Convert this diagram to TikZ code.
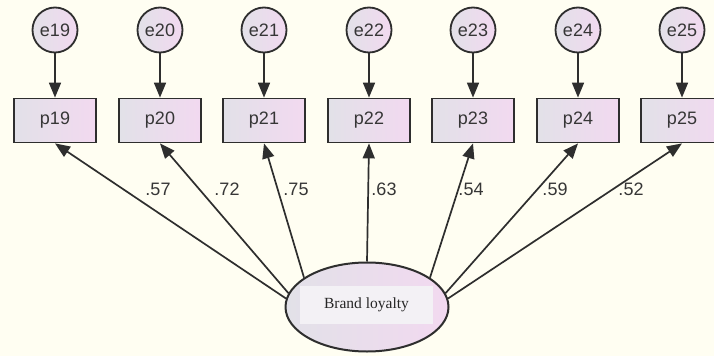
\documentclass[tikz,border=0pt]{standalone}
\usepackage{fontspec}
\setmainfont{Liberation Sans}
\newfontfamily\serifont{Liberation Serif}
\usetikzlibrary{arrows.meta,shapes.geometric}
\definecolor{bg}{HTML}{FFFEF2}
\definecolor{ln}{HTML}{2E2E2E}
\definecolor{txt}{HTML}{363636}
\definecolor{shl}{HTML}{E2E1E8}
\definecolor{shr}{HTML}{F2D9F0}
\definecolor{inner}{HTML}{F3F1F5}
\begin{document}
\begin{tikzpicture}[x=1pt,y=-1pt,
  err/.style={circle, draw=ln, line width=1.8pt, minimum size=45pt, inner sep=0pt,
    left color=shl, right color=shr, text=txt, font=\fontsize{18}{20}\selectfont},
  obs/.style={rectangle, draw=ln, line width=1.8pt, minimum width=82pt, minimum height=44pt,
    inner sep=0pt, left color=shl, right color=shr, text=txt, font=\fontsize{18}{20}\selectfont},
  lat/.style={ellipse, draw=ln, line width=2pt, minimum width=163pt, minimum height=89pt,
    inner sep=0pt, left color=shl, right color=shr},
  lattxt/.style={rectangle, fill=inner, minimum width=133pt, minimum height=38pt, inner sep=0pt,
    text=black!85, font=\serifont\fontsize{15.5}{18}\selectfont},
  arr/.style={draw=ln, line width=1.7pt, -{Triangle[length=15pt,width=12pt]}},
  lbl/.style={text=txt, font=\fontsize{18}{20}\selectfont, inner sep=0pt}]
\fill[bg] (0,0) rectangle (714,356);
\useasboundingbox (0,0) rectangle (714,356);
% error circles
\node[err] (e19) at (55,30) {e19};
\node[err] (e20) at (160,30) {e20};
\node[err] (e21) at (264,30) {e21};
\node[err] (e22) at (369,30) {e22};
\node[err] (e23) at (473,30) {e23};
\node[err] (e24) at (578,30) {e24};
\node[err] (e25) at (682,30) {e25};
% observed boxes
\node[obs] (p19) at (55,120.5) {p19};
\node[obs] (p20) at (160,120.5) {p20};
\node[obs] (p21) at (264,120.5) {p21};
\node[obs] (p22) at (369,120.5) {p22};
\node[obs] (p23) at (473,120.5) {p23};
\node[obs] (p24) at (578,120.5) {p24};
\node[obs] (p25) at (682,120.5) {p25};
% latent
\node[lat] (L) at (367,307) {};
\node[lattxt] (Lt) at (366.5,305) {Brand loyalty};
% error arrows
\foreach \i in {19,...,25}{\draw[arr] (e\i) -- (p\i);}
% loadings
\draw[arr] (L.174) -- (p19.south);
\draw[arr] (L.170) -- (p20.south);
\draw[arr] (L.155) -- (p21.south);
\draw[arr] (L.90) -- (p22.south);
\draw[arr] (L.25) -- (p23.south);
\draw[arr] (L.10) -- (p24.south);
\draw[arr] (L.6) -- (p25.south);
% labels
\node[lbl] (l19) at (158,189) {.57};
\node[lbl] (l20) at (227,189) {.72};
\node[lbl] (l21) at (296,189) {.75};
\node[lbl] (l22) at (384,189) {.63};
\node[lbl] (l23) at (471,189) {.54};
\node[lbl] (l24) at (555,189) {.59};
\node[lbl] (l25) at (631,189) {.52};
\end{tikzpicture}
\end{document}
